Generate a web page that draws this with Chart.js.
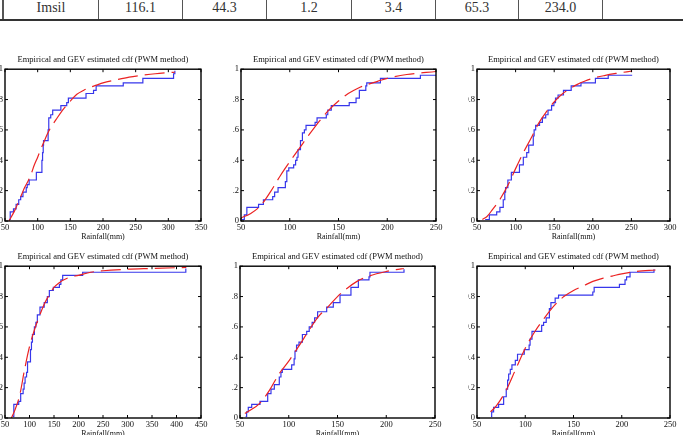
<!DOCTYPE html>
<html>
<head>
<meta charset="utf-8">
<script src="https://cdn.jsdelivr.net/npm/chart.js@4.4.0/dist/chart.umd.min.js"></script>
<style>
html, body { margin: 0; padding: 0; background: #fff; width: 683px; height: 435px; overflow: hidden; position: relative; }
.cell { position: absolute; top: 0; height: 20px; line-height: 19px; text-align: center; font: 14px 'Liberation Serif', 'Times New Roman', serif; color: #333; border-left: 1px solid #555; box-sizing: border-box; }
.rule { position: absolute; left: 0; top: 19px; width: 683px; height: 2px; background: #333; }
.wrap { position: absolute; overflow: hidden; }
.wrap canvas { position: absolute; top: 0; }
</style>
</head>
<body>
<div id="table"></div>
<div id="plots"></div>
<script>
// table row above the figures
const tableRow = ["Imsil", "116.1", "44.3", "1.2", "3.4", "65.3", "234.0", ""];

// axis ranges / titles
const xMaxes = [350, 250, 300, 450, 250, 250];
const yTicks = [0, 0.2, 0.4, 0.6, 0.8, 1];
const plotTitle = "Empirical and GEV estimated cdf (PWM method)";
const xTitle = "Rainfall(mm)";

// panel 1 (top left)
const p1EmpX = [56, 58, 63, 67, 71, 74, 77.5, 82.5, 84, 87, 98, 106.5, 107.5, 108.5, 109, 116, 117, 120, 123, 135.5, 144.5, 147, 174, 185.5, 189.5, 231, 261, 308, 310];
const p1EmpY = [0.01, 0.06, 0.08, 0.11, 0.14, 0.16, 0.19, 0.22, 0.24, 0.27, 0.32, 0.40, 0.45, 0.50, 0.53, 0.60, 0.68, 0.70, 0.73, 0.76, 0.78, 0.81, 0.84, 0.86, 0.89, 0.91, 0.94, 0.97, 0.99];
const p1GevX = [56, 60, 65, 70, 75, 80, 85, 90, 95, 100, 105, 110, 115, 120, 130, 140, 150, 160, 170, 180, 190, 200, 220, 240, 260, 280, 300, 310];
const p1GevY = [0, 0.03, 0.07, 0.12, 0.17, 0.22, 0.26, 0.31, 0.37, 0.42, 0.475, 0.525, 0.575, 0.615, 0.68, 0.74, 0.79, 0.835, 0.86, 0.88, 0.895, 0.91, 0.93, 0.948, 0.96, 0.97, 0.977, 0.98];

// panel 2 (top middle)
const p2EmpX = [51, 53.4, 56, 68, 73, 82.5, 84.5, 88, 95.5, 97, 99, 104, 106, 107.4, 108.5, 111, 113, 115, 116.7, 126, 128, 137.5, 139, 142.6, 161, 168, 171.4, 178, 179, 193, 234, 262];
const p2EmpY = [0.01, 0.04, 0.09, 0.11, 0.14, 0.16, 0.19, 0.22, 0.26, 0.33, 0.35, 0.37, 0.40, 0.42, 0.47, 0.53, 0.58, 0.60, 0.63, 0.65, 0.68, 0.70, 0.73, 0.76, 0.78, 0.81, 0.86, 0.89, 0.91, 0.94, 0.96, 0.99];
const p2GevX = [50, 60, 70, 80, 90, 100, 110, 120, 130, 140, 150, 160, 170, 180, 190, 200, 220, 250];
const p2GevY = [0.02, 0.05, 0.10, 0.19, 0.295, 0.39, 0.48, 0.57, 0.655, 0.73, 0.79, 0.84, 0.875, 0.90, 0.92, 0.94, 0.965, 0.985];

// panel 3 (top right)
const p3EmpX = [60.6, 66, 75.5, 79.7, 84, 86, 87, 90, 94.5, 105, 110, 114.4, 117, 122.9, 124, 126, 131, 134.7, 139, 142, 146.6, 149.6, 151.7, 155, 162, 172, 184.7, 203.4, 220, 251];
const p3EmpY = [0.01, 0.04, 0.06, 0.09, 0.14, 0.19, 0.22, 0.27, 0.32, 0.37, 0.42, 0.45, 0.50, 0.56, 0.60, 0.63, 0.65, 0.68, 0.70, 0.73, 0.76, 0.78, 0.81, 0.83, 0.86, 0.89, 0.91, 0.94, 0.96, 0.96];
const p3GevX = [57, 63, 70, 80, 90, 100, 110, 120, 130, 140, 150, 160, 170, 180, 190, 200, 215, 230, 251];
const p3GevY = [0.01, 0.03, 0.075, 0.145, 0.235, 0.345, 0.45, 0.545, 0.645, 0.72, 0.785, 0.835, 0.87, 0.90, 0.922, 0.94, 0.958, 0.972, 0.988];

// panel 4 (bottom left)
const p4EmpX = [65.6, 68, 78, 82, 87, 89, 91, 94, 96, 102, 104, 106, 110, 113, 116, 121.4, 130, 136.4, 140.5, 148.6, 161, 164, 167.7, 208.5, 419];
const p4EmpY = [0.01, 0.09, 0.11, 0.16, 0.19, 0.23, 0.27, 0.30, 0.37, 0.45, 0.50, 0.55, 0.60, 0.63, 0.68, 0.73, 0.76, 0.80, 0.84, 0.86, 0.88, 0.91, 0.94, 0.96, 0.985];
const p4GevX = [63, 70, 80, 90, 100, 110, 120, 130, 140, 150, 160, 180, 200, 225, 250, 300, 350, 420];
const p4GevY = [0, 0.05, 0.15, 0.32, 0.47, 0.58, 0.67, 0.75, 0.81, 0.86, 0.89, 0.925, 0.94, 0.96, 0.97, 0.98, 0.985, 0.992];

// panel 5 (bottom middle)
const p5EmpX = [55.8, 56.8, 58.5, 62, 70.5, 78.4, 81.8, 85.2, 90.3, 92, 93.4, 103, 105.5, 106.4, 108, 110.5, 114, 118.4, 121, 124, 126.5, 129.6, 138.9, 145.7, 152.6, 163.8, 171.4, 182.3, 183.3, 218.2];
const p5EmpY = [0.01, 0.04, 0.07, 0.09, 0.11, 0.16, 0.19, 0.22, 0.27, 0.30, 0.32, 0.35, 0.39, 0.44, 0.48, 0.50, 0.55, 0.57, 0.60, 0.63, 0.66, 0.70, 0.73, 0.76, 0.81, 0.86, 0.91, 0.93, 0.96, 0.98];
const p5GevX = [55, 60, 70, 80, 90, 100, 110, 120, 130, 140, 150, 160, 170, 180, 190, 200, 210, 218];
const p5GevY = [0.03, 0.05, 0.095, 0.18, 0.29, 0.375, 0.47, 0.57, 0.665, 0.73, 0.80, 0.855, 0.90, 0.93, 0.95, 0.965, 0.978, 0.985];

// panel 6 (bottom right)
const p6EmpX = [64.5, 65.2, 67.2, 72.4, 77.6, 80.3, 81.7, 82.8, 84.5, 86.2, 89.7, 92, 99, 104, 105, 107, 117, 119, 121.7, 125, 126.6, 131, 134.5, 170, 171.4, 197.6, 203.4, 205, 208.6, 233.4];
const p6EmpY = [0.01, 0.04, 0.07, 0.09, 0.14, 0.19, 0.25, 0.29, 0.32, 0.35, 0.38, 0.42, 0.45, 0.48, 0.52, 0.57, 0.61, 0.63, 0.66, 0.72, 0.76, 0.79, 0.81, 0.83, 0.86, 0.88, 0.91, 0.93, 0.96, 0.98];
const p6GevX = [64, 70, 80, 90, 100, 110, 120, 130, 140, 150, 160, 170, 180, 190, 200, 215, 235];
const p6GevY = [0.04, 0.08, 0.18, 0.32, 0.46, 0.57, 0.66, 0.74, 0.80, 0.84, 0.87, 0.90, 0.92, 0.935, 0.95, 0.965, 0.975];

// layout of the table and the six panels on the page
const colEdges = [2, 98, 182, 266, 351, 435, 518, 602, 700];
const panels = [
    { emp: [p1EmpX, p1EmpY], gev: [p1GevX, p1GevY], left: 5, right: 201, top: 69, cropX: 0 },
    { emp: [p2EmpX, p2EmpY], gev: [p2GevX, p2GevY], left: 241, right: 436, top: 69, cropX: 232.5 },
    { emp: [p3EmpX, p3EmpY], gev: [p3GevX, p3GevY], left: 477, right: 670, top: 69, cropX: 467.5 },
    { emp: [p4EmpX, p4EmpY], gev: [p4GevX, p4GevY], left: 5, right: 201, top: 266, cropX: 0 },
    { emp: [p5EmpX, p5EmpY], gev: [p5GevX, p5GevY], left: 240, right: 435, top: 266, cropX: 231.5 },
    { emp: [p6EmpX, p6EmpY], gev: [p6GevX, p6GevY], left: 477, right: 670, top: 266, cropX: 468 },
];
const Y_AXIS_W = 22;
const X_AXIS_H = 24;
const TOP_SPACE = 17.2;
const RIGHT_PAD = 10;
const PLOT_H = 152;

// table
const tableDiv = document.querySelector("#table");
let tableHTML = "";
for (let i = 0; i < tableRow.length; i++) {
    tableHTML += `<div class="cell" style="left:${colEdges[i]}px;width:${colEdges[i + 1] - colEdges[i]}px;${i == 0 ? "border-left-width:2px;" : ""}">${tableRow[i]}</div>`;
}
tableHTML += `<div class="rule"></div>`;
tableDiv.innerHTML = tableHTML;

Chart.defaults.font.family = "'Liberation Serif', 'Times New Roman', serif";
Chart.defaults.color = "#111";

// boxed axes with inward ticks on all four sides, like matlab
const matlabFrame = {
    id: "matlabFrame",
    afterDatasetsDraw(chart) {
        const { ctx, chartArea: a, scales } = chart;
        const tl = 3;
        ctx.save();
        ctx.strokeStyle = "#000";
        ctx.lineWidth = 1;
        ctx.beginPath();
        scales.x.ticks.forEach((t) => {
            const px = scales.x.getPixelForValue(t.value);
            ctx.moveTo(px, a.bottom);
            ctx.lineTo(px, a.bottom - tl);
            ctx.moveTo(px, a.top);
            ctx.lineTo(px, a.top + tl);
        });
        scales.y.ticks.forEach((t) => {
            const py = scales.y.getPixelForValue(t.value);
            ctx.moveTo(a.left, py);
            ctx.lineTo(a.left + tl, py);
            ctx.moveTo(a.right, py);
            ctx.lineTo(a.right - tl, py);
        });
        ctx.stroke();
        ctx.lineWidth = 1.4;
        ctx.strokeRect(a.left, a.top, a.right - a.left, a.bottom - a.top);
        ctx.restore();
    },
};

function toPoints(xs, ys) {
    return xs.map((v, i) => ({ x: v, y: ys[i] }));
}

const plotsDiv = document.querySelector("#plots");
panels.forEach((p, idx) => {
    const canvasLeft = p.left - Y_AXIS_W;
    const canvasTop = p.top - TOP_SPACE;
    const w = p.right + RIGHT_PAD - canvasLeft;
    const h = Math.round(TOP_SPACE + PLOT_H + X_AXIS_H);

    const wrap = document.createElement("div");
    wrap.className = "wrap";
    wrap.style.left = p.cropX + "px";
    wrap.style.top = canvasTop + "px";
    wrap.style.width = (p.right + RIGHT_PAD - p.cropX) + "px";
    wrap.style.height = h + "px";
    const canvas = document.createElement("canvas");
    canvas.width = w;
    canvas.height = h;
    canvas.style.width = w + "px";
    canvas.style.height = h + "px";
    canvas.style.left = (canvasLeft - p.cropX) + "px";
    wrap.appendChild(canvas);
    plotsDiv.appendChild(wrap);

    new Chart(canvas.getContext("2d"), {
        type: "scatter",
        data: {
            datasets: [
                {
                    label: "Empirical",
                    data: toPoints(p.emp[0], p.emp[1]),
                    showLine: true,
                    stepped: true,
                    borderColor: "rgb(55,55,235)",
                    borderWidth: 1.2,
                    pointRadius: 0,
                    fill: false,
                    order: 2,
                },
                {
                    label: "GEV",
                    data: toPoints(p.gev[0], p.gev[1]),
                    showLine: true,
                    cubicInterpolationMode: "monotone",
                    borderColor: "rgb(235,35,35)",
                    borderWidth: 1.2,
                    borderDash: [20, 7],
                    pointRadius: 0,
                    fill: false,
                    order: 1,
                },
            ],
        },
        options: {
            responsive: false,
            animation: false,
            events: [],
            layout: { padding: { top: 3, right: RIGHT_PAD, left: 0, bottom: 0 } },
            plugins: {
                legend: { display: false },
                tooltip: { enabled: false },
                title: {
                    display: true,
                    text: plotTitle,
                    fullSize: false,
                    color: "#111",
                    font: { size: 8.5, weight: "normal" },
                    padding: { top: 0, bottom: 4 },
                },
            },
            scales: {
                x: {
                    type: "linear",
                    min: 50,
                    max: xMaxes[idx],
                    grid: { display: false, drawTicks: false },
                    border: { display: false },
                    ticks: { stepSize: 50, padding: 2, maxRotation: 0, autoSkip: false, font: { size: 8.5 } },
                    title: { display: true, text: xTitle, font: { size: 8 }, padding: { top: 0, bottom: 3 } },
                    afterFit(scale) {
                        scale.height = X_AXIS_H;
                    },
                },
                y: {
                    type: "linear",
                    min: 0,
                    max: 1,
                    grid: { display: false, drawTicks: false },
                    border: { display: false },
                    afterBuildTicks(scale) {
                        scale.ticks = yTicks.map((v) => ({ value: v }));
                    },
                    ticks: {
                        padding: 2,
                        font: { size: 8.5 },
                        callback: (v) => (v == 0 ? "0" : v == 1 ? "1" : v.toFixed(1)),
                    },
                    afterFit(scale) {
                        scale.width = Y_AXIS_W;
                    },
                },
            },
        },
        plugins: [matlabFrame],
    });
});
</script>
</body>
</html>
